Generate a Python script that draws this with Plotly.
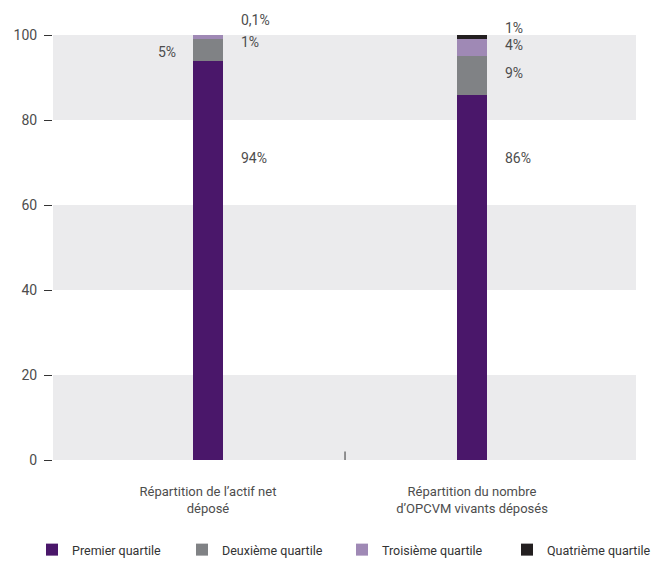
import plotly.graph_objects as go

# Categories and series values (percent of total)
categories = ["Répartition de l\u2019actif net<br>déposé",
              "Répartition du nombre<br>d\u2019OPCVM vivants déposés"]
series_names = ["Premier quartile", "Deuxième quartile",
                "Troisième quartile", "Quatrième quartile"]
premier = [94, 86]
deuxieme = [5, 9]
troisieme = [1, 4]
quatrieme = [0.1, 1]
value_labels = [["94%", "5%", "1%", "0,1%"], ["86%", "9%", "4%", "1%"]]
y_ticks = [0, 20, 40, 60, 80, 100]

colors = ["#4a176a", "#808285", "#9f89b5", "#231f20"]
FONT = "Roboto, sans-serif"
TXT = "#4d4d4d"

L, R, T, B = 53, 16, 35, 102
W, H = 652, 562

x_pos = [0, 1]
fig = go.Figure()
legend_ids = ["legend", "legend2", "legend3", "legend4"]
for name, vals, col, lg in zip(series_names, [premier, deuxieme, troisieme, quatrieme],
                               colors, legend_ids):
    fig.add_trace(go.Bar(x=x_pos, y=vals, name=name, marker_color=col,
                         marker_line_width=0, width=0.115, legend=lg))

# Alternating background bands
for lo in (0, 40, 80):
    fig.add_shape(type="rect", xref="paper", yref="y", x0=0, x1=1, y0=lo, y1=lo + 20,
                  fillcolor="#ebebed", line_width=0, layer="below")

# Small separator tick between the two categories
fig.add_shape(type="line", xref="x", yref="y", x0=0.519, x1=0.519, y0=0, y1=2,
              line=dict(color="#333333", width=1))

# Value labels: (bar index, label index, anchor side, y position in % of axis)
label_place = [
    (0, 0, "right", 71), (0, 1, "left", 96), (0, 2, "right", 98.4), (0, 3, "right", 103.6),
    (1, 0, "right", 71), (1, 1, "right", 91), (1, 2, "right", 97.6), (1, 3, "right", 101.6),
]
for b, k, side, yy in label_place:
    right = side == "right"
    fig.add_annotation(x=x_pos[b], xref="x", y=yy / 100, yref="paper",
                       text=value_labels[b][k], showarrow=False,
                       xanchor="left" if right else "right", yanchor="middle",
                       xshift=31 if right else -30,
                       font=dict(family=FONT, size=14, color=TXT))

# One legend per series, placed along the bottom of the figure
legend_px = [32, 182, 342, 507]
legends = {}
for lg, px in zip(legend_ids, legend_px):
    legends[lg] = dict(orientation="h", xref="container", yref="container",
                       x=px / W, y=1 - 535 / H, xanchor="left", yanchor="top",
                       font=dict(family=FONT, size=12.5, color="#333333"),
                       bgcolor="rgba(0,0,0,0)")

fig.update_layout(
    barmode="stack",
    width=W, height=H,
    margin=dict(l=L, r=R, t=T, b=B, autoexpand=False),
    plot_bgcolor="white", paper_bgcolor="white",
    font=dict(family=FONT, size=14, color=TXT),
    xaxis=dict(range=[-0.587, 1.621], tickvals=x_pos, ticktext=categories,
               showgrid=False, zeroline=False, showline=False, ticks="",
               automargin=False, ticklabelstandoff=22,
               tickfont=dict(family=FONT, size=13, color=TXT)),
    yaxis=dict(range=[0, 100], tickvals=y_ticks, showgrid=False, zeroline=False,
               showline=False, ticks="outside", ticklen=8, tickcolor="#333333",
               tickwidth=1, ticklabelstandoff=4, automargin=False,
               tickfont=dict(family=FONT, size=14, color=TXT)),
    showlegend=True,
    bargap=0,
    **legends,
)

fig.write_html("out.html")
